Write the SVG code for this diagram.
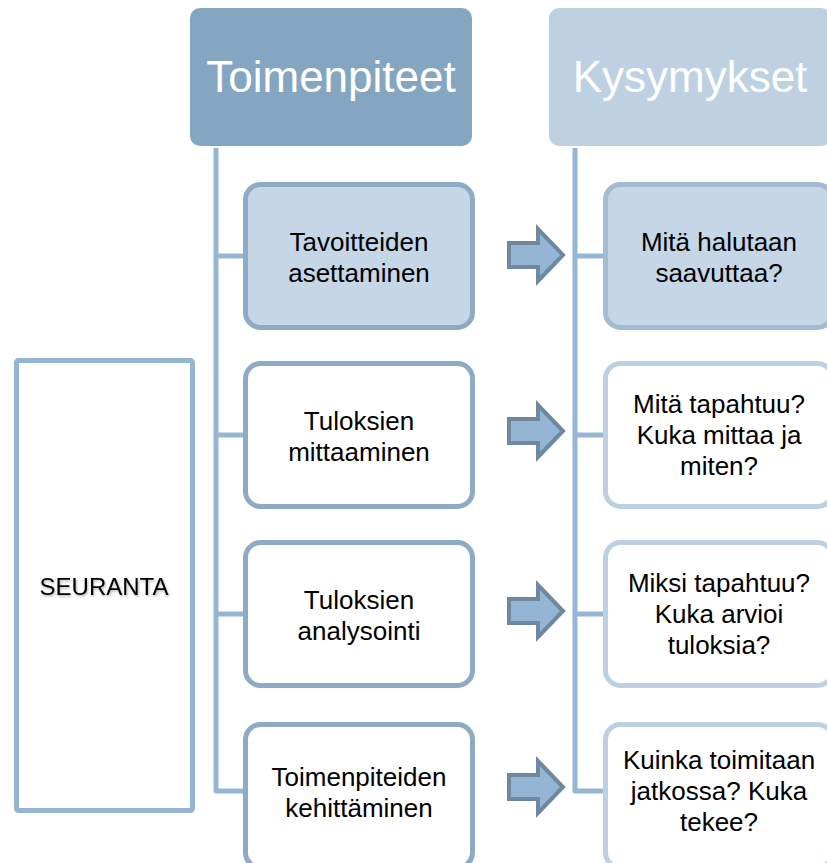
<svg xmlns="http://www.w3.org/2000/svg" width="827" height="863" viewBox="0 0 827 863">
<defs>
<style>
.hdr{font-family:"Liberation Sans",Arial,sans-serif;font-size:44px;fill:#ffffff;text-anchor:middle}
.t{font-family:"Liberation Sans",Arial,sans-serif;font-size:26px;fill:#000000;text-anchor:middle}
.seu{font-family:"Liberation Sans",Arial,sans-serif;font-size:24px;fill:#000000;text-anchor:middle}
.conn{fill:none;stroke:#95b6d4;stroke-width:5;stroke-linejoin:round}
.lbox{stroke:#8eaac5;stroke-width:5}
.rbox{stroke:#bcd0e3;stroke-width:5;fill:#ffffff}
.arrow{fill:#94b5d3;stroke:#6e889f;stroke-width:4;stroke-linejoin:miter}
</style>
<filter id="sh" x="-10%" y="-30%" width="120%" height="160%">
<feDropShadow dx="1" dy="1.5" stdDeviation="1" flood-color="#000" flood-opacity="0.3"/>
</filter>
</defs>
<rect width="827" height="863" fill="#ffffff"/>

<g id="connectors">
<path class="conn" d="M216 148 V791 H243 M216 256 H243 M216 435 H243 M216 614 H243"/>
<path class="conn" d="M575 148 V791 H603 M575 256 H603 M575 435 H603 M575 614 H603"/>
</g>

<g id="header-toimenpiteet">
<rect x="190" y="8" width="282" height="138" rx="10" fill="#85a6c1"/>
<text class="hdr" x="331" y="92">Toimenpiteet</text>
</g>
<g id="header-kysymykset">
<rect x="549" y="8" width="282" height="138" rx="10" fill="#bed1e2"/>
<text class="hdr" x="690" y="92">Kysymykset</text>
</g>

<g id="seuranta">
<rect x="16.5" y="360.5" width="176" height="450" rx="2" fill="#ffffff" stroke="#95b5d3" stroke-width="5"/>
<text class="seu" x="104" y="595" filter="url(#sh)">SEURANTA</text>
</g>

<g id="l1">
<rect class="lbox" x="245.5" y="184.5" width="227" height="143" rx="15" fill="#c5d6e6"/>
<text class="t" x="359" y="251">Tavoitteiden</text>
<text class="t" x="359" y="282">asettaminen</text>
</g>
<g id="l2">
<rect class="lbox" x="245.5" y="363.5" width="227" height="143" rx="15" fill="#ffffff"/>
<text class="t" x="359" y="430">Tuloksien</text>
<text class="t" x="359" y="461">mittaaminen</text>
</g>
<g id="l3">
<rect class="lbox" x="245.5" y="542.5" width="227" height="143" rx="15" fill="#ffffff"/>
<text class="t" x="359" y="609">Tuloksien</text>
<text class="t" x="359" y="640">analysointi</text>
</g>
<g id="l4">
<rect class="lbox" x="245.5" y="724.5" width="227" height="143" rx="15" fill="#ffffff"/>
<text class="t" x="359" y="786">Toimenpiteiden</text>
<text class="t" x="359" y="817">kehittäminen</text>
</g>

<g id="a1"><path class="arrow" d="M509 243 H538 V229 L563 255 L538 281 V267 H509 Z"/></g>
<g id="a2"><path class="arrow" d="M509 419 H538 V405 L563 431 L538 457 V443 H509 Z"/></g>
<g id="a3"><path class="arrow" d="M509 599 H538 V585 L563 611 L538 637 V623 H509 Z"/></g>
<g id="a4"><path class="arrow" d="M509 775 H538 V761 L563 787 L538 813 V799 H509 Z"/></g>

<g id="r1">
<rect x="605.5" y="184.5" width="227" height="143" rx="15" fill="#c5d6e6" stroke="#a3bcd4" stroke-width="5"/>
<text class="t" x="719" y="251">Mitä halutaan</text>
<text class="t" x="719" y="282">saavuttaa?</text>
</g>
<g id="r2">
<rect class="rbox" x="605.5" y="363.5" width="227" height="143" rx="15"/>
<text class="t" x="719" y="413">Mitä tapahtuu?</text>
<text class="t" x="719" y="444">Kuka mittaa ja</text>
<text class="t" x="719" y="475">miten?</text>
</g>
<g id="r3">
<rect class="rbox" x="605.5" y="542.5" width="227" height="143" rx="15"/>
<text class="t" x="719" y="592">Miksi tapahtuu?</text>
<text class="t" x="719" y="623">Kuka arvioi</text>
<text class="t" x="719" y="654">tuloksia?</text>
</g>
<g id="r4">
<rect class="rbox" x="605.5" y="724.5" width="227" height="143" rx="15"/>
<text class="t" x="719" y="769">Kuinka toimitaan</text>
<text class="t" x="719" y="800">jatkossa? Kuka</text>
<text class="t" x="719" y="831">tekee?</text>
</g>
</svg>
